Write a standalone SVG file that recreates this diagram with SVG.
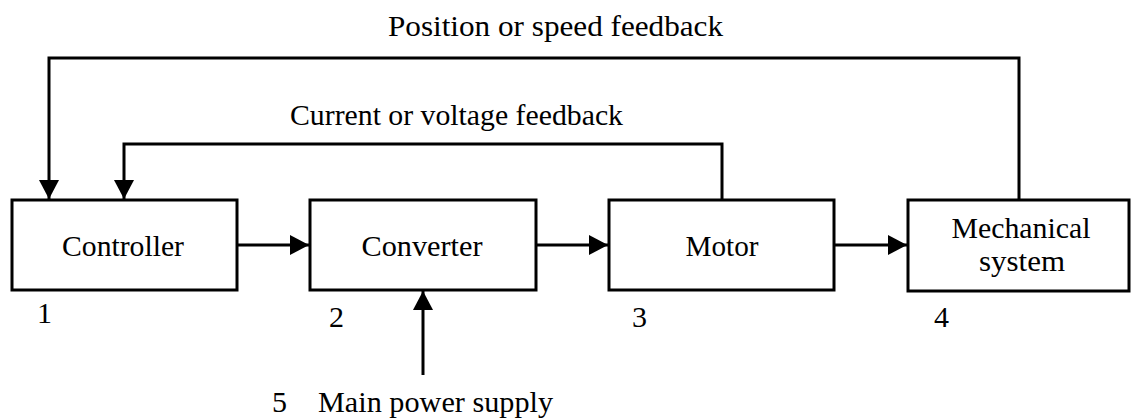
<svg xmlns="http://www.w3.org/2000/svg" width="1132" height="419" viewBox="0 0 1132 419">
<defs>
<style>
.box{fill:#fff;stroke:#000;stroke-width:3}
.ln{fill:none;stroke:#000;stroke-width:3;stroke-linejoin:miter}
.t{font-family:"Liberation Serif","DejaVu Serif",serif;font-size:30px;fill:#000}
.c{text-anchor:middle}
</style>
<marker id="ah" markerUnits="userSpaceOnUse" markerWidth="20" markerHeight="20" viewBox="0 0 20 20" refX="19" refY="10" orient="auto">
<path d="M0,0 L19,10 L0,20 Z" fill="#000"/>
</marker>
</defs>
<g id="connectors">
<path class="ln" d="M237,245 H309" marker-end="url(#ah)"/>
<path class="ln" d="M536,245 H608" marker-end="url(#ah)"/>
<path class="ln" d="M834,245 H907" marker-end="url(#ah)"/>
<path class="ln" d="M1019,200 V58 H49 V199" marker-end="url(#ah)"/>
<path class="ln" d="M722,200 V144 H124 V199" marker-end="url(#ah)"/>
<path class="ln" d="M423,375 V291" marker-end="url(#ah)"/>
<text class="t" x="388" y="36" textLength="335" lengthAdjust="spacingAndGlyphs">Position or speed feedback</text>
<text class="t" x="290" y="125" textLength="333" lengthAdjust="spacingAndGlyphs">Current or voltage feedback</text>
<text class="t" x="272" y="412">5</text>
<text class="t" x="318" y="412" textLength="235" lengthAdjust="spacingAndGlyphs">Main power supply</text>
</g>
<g id="controller">
<rect class="box" x="12" y="200" width="225" height="90"/>
<text class="t c" x="123" y="256" textLength="122" lengthAdjust="spacingAndGlyphs">Controller</text>
<text class="t" x="37" y="323">1</text>
</g>
<g id="converter">
<rect class="box" x="310" y="200" width="226" height="90"/>
<text class="t c" x="422" y="256" textLength="121" lengthAdjust="spacingAndGlyphs">Converter</text>
<text class="t" x="329" y="327">2</text>
</g>
<g id="motor">
<rect class="box" x="609" y="200" width="225" height="90"/>
<text class="t c" x="722" y="256" textLength="73" lengthAdjust="spacingAndGlyphs">Motor</text>
<text class="t" x="632" y="327">3</text>
</g>
<g id="mechanical">
<rect class="box" x="908" y="200" width="221" height="91"/>
<text class="t c" x="1021" y="238" textLength="139" lengthAdjust="spacingAndGlyphs">Mechanical</text>
<text class="t c" x="1022" y="271" textLength="86" lengthAdjust="spacingAndGlyphs">system</text>
<text class="t" x="934" y="327">4</text>
</g>
</svg>
